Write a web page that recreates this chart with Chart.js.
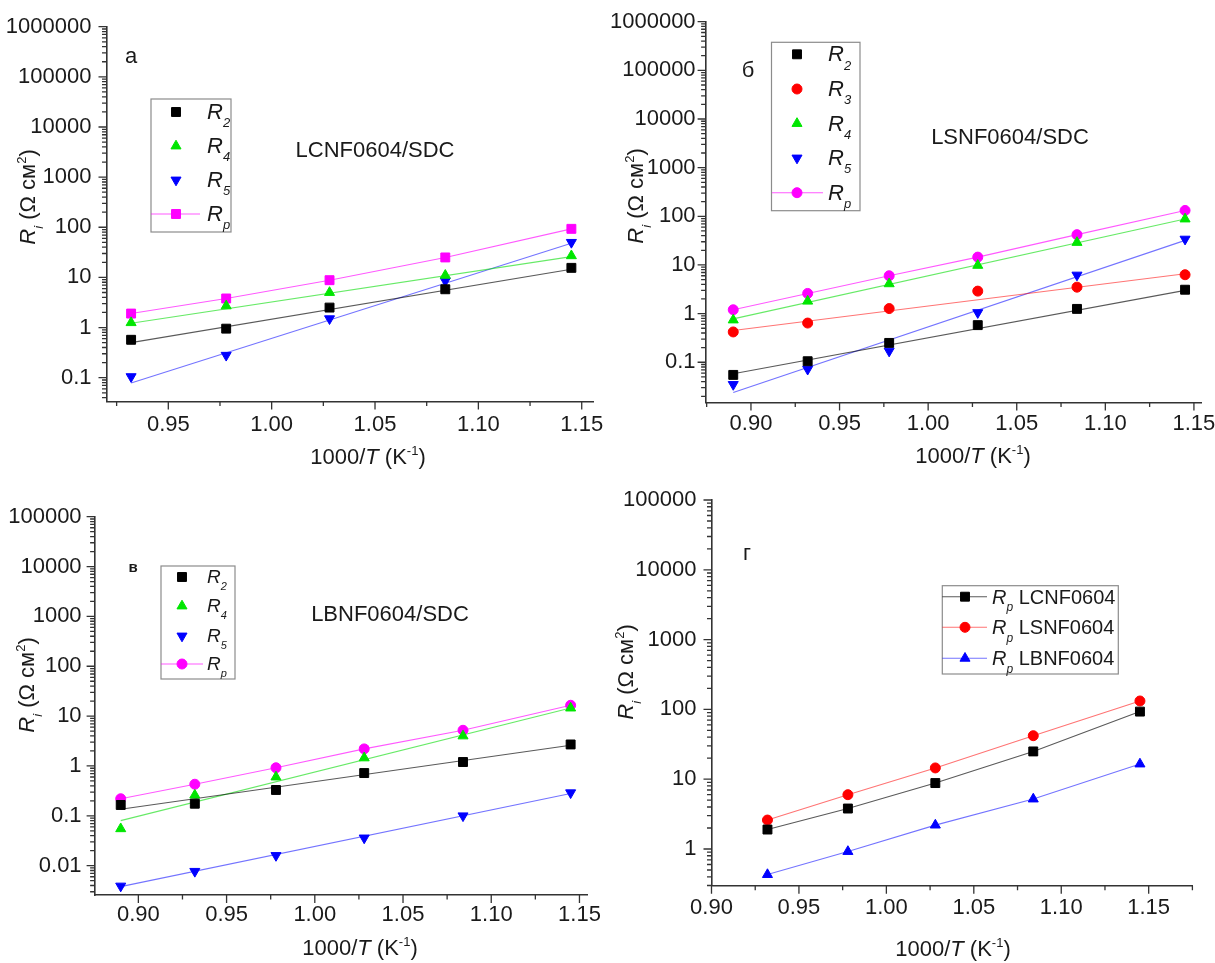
<!DOCTYPE html>
<html>
<head>
<meta charset="utf-8">
<script src="https://cdn.jsdelivr.net/npm/chart.js@4.4.1/dist/chart.umd.min.js"></script>
<style>
  html, body { margin: 0; padding: 0; background: #fff; }
  #wrap { position: relative; width: 1215px; height: 963px; overflow: hidden; }
  canvas { position: absolute; left: 0; top: 0; }
</style>
</head>
<body>
<div id="wrap">
  <canvas id="chA" width="1215" height="963"></canvas>
  <canvas id="chB" width="1215" height="963"></canvas>
  <canvas id="chC" width="1215" height="963"></canvas>
  <canvas id="chD" width="1215" height="963"></canvas>
</div>
<script>
const FONT = '"Liberation Sans", Arial, sans-serif';
const TXT = '#1a1a1a';
const AXIS = '#333333';

// 1000/T (K^-1)
const x5 = [0.932, 0.978, 1.028, 1.084, 1.145];
const x6 = [0.890, 0.932, 0.978, 1.028, 1.084, 1.145];
const fitX5 = [0.932, 1.145];
const fitX6 = [0.890, 1.145];

// panel a: LCNF0604/SDC
const seriesA = ['R2', 'R4', 'R5', 'Rp'];
const aR2 = [0.57, 0.95, 2.5, 5.8, 15.5];
const aR4 = [1.25, 2.7, 5.0, 11, 27];
const aR5 = [0.105, 0.28, 1.5, 8.5, 50];
const aRp = [1.9, 3.8, 8.8, 25, 93];
const aFitR2 = [0.50, 14.5];
const aFitR4 = [1.22, 26];
const aFitR5 = [0.078, 48];

// panel б: LSNF0604/SDC
const seriesB = ['R2', 'R3', 'R4', 'R5', 'Rp'];
const bR2 = [0.055, 0.105, 0.25, 0.58, 1.25, 3.1];
const bR3 = [0.42, 0.64, 1.27, 2.9, 3.5, 6.3];
const bR4 = [0.74, 1.8, 4.1, 9.8, 29, 88];
const bR5 = [0.035, 0.072, 0.17, 1.05, 6.2, 34];
const bRp = [1.2, 2.6, 6.0, 14.5, 42, 132];
const bFitR2 = [0.058, 3.0];
const bFitR3 = [0.45, 6.6];
const bFitR4 = [0.78, 88];
const bFitR5 = [0.024, 32];

// panel в: LBNF0604/SDC
const seriesC = ['R2', 'R4', 'R5', 'Rp'];
const cR2 = [0.165, 0.175, 0.33, 0.72, 1.2, 2.7];
const cR4 = [0.055, 0.26, 0.6, 1.45, 4.0, 14.5];
const cR5 = [0.0039, 0.0077, 0.016, 0.036, 0.10, 0.29];
const cRp = [0.22, 0.43, 0.92, 2.2, 5.2, 16.5];
const cFitR2 = [0.135, 2.6];
const cFitR4 = [0.08, 14.5];
const cFitR5 = [0.0038, 0.28];

// panel г: Rp comparison
const seriesD = ['Rp LCNF0604', 'Rp LSNF0604', 'Rp LBNF0604'];
const dLC = [1.9, 3.8, 8.8, 25, 93];
const dLS = [2.6, 6.0, 14.5, 42, 132];
const dLB = [0.43, 0.92, 2.2, 5.2, 16.5];

// ticks
const xTicksA = [0.95, 1.00, 1.05, 1.10, 1.15];
const xLabelsA = ['0.95', '1.00', '1.05', '1.10', '1.15'];
const xTicksB = [0.90, 0.95, 1.00, 1.05, 1.10, 1.15];
const xLabelsB = ['0.90', '0.95', '1.00', '1.05', '1.10', '1.15'];
const yTicksA = [0.1, 1, 10, 100, 1000, 10000, 100000, 1000000];
const yLabelsA = ['0.1', '1', '10', '100', '1000', '10000', '100000', '1000000'];
const yTicksC = [0.01, 0.1, 1, 10, 100, 1000, 10000, 100000];
const yLabelsC = ['0.01', '0.1', '1', '10', '100', '1000', '10000', '100000'];
const yTicksD = [1, 10, 100, 1000, 10000, 100000];
const yLabelsD = ['1', '10', '100', '1000', '10000', '100000'];

const BLACK = '#000000', RED = '#ff0000', GREEN = '#00e600', BLUE = '#0000ff', MAG = '#ff00ff';
const lBLACK = 'rgba(0,0,0,0.65)', lRED = 'rgba(255,0,0,0.55)', lGREEN = 'rgba(0,220,0,0.6)',
      lBLUE = 'rgba(0,0,255,0.55)', lMAG = 'rgba(255,0,255,0.65)';

function pts(xs, ys) { return xs.map((x, i) => ({ x: x, y: ys[i] })); }

function marks(label, xs, ys, color, style, radius, rot, lineColor) {
  return {
    label: label, data: pts(xs, ys),
    showLine: !!lineColor, borderColor: lineColor || color, borderWidth: 1.1,
    pointStyle: style, pointRadius: radius, pointHoverRadius: radius, pointRotation: rot || 0,
    pointBackgroundColor: color, pointBorderColor: color, pointBorderWidth: 1
  };
}
function fit(xs, ys, color) {
  return { label: '', data: pts(xs, ys), showLine: true, borderColor: color, borderWidth: 1.1,
           pointRadius: 0, pointHoverRadius: 0 };
}

function runFont(r, size) {
  const s = (r.sub || r.sup) ? Math.round(size * 0.6) : size;
  return (r.it ? 'italic ' : '') + (r.b ? 'bold ' : '') + s + 'px ' + FONT;
}
function drawRuns(ctx, runs, x, y, size, align, rot) {
  ctx.save();
  ctx.translate(x, y);
  if (rot) ctx.rotate(rot);
  let w = 0;
  runs.forEach(r => { ctx.font = runFont(r, size); w += ctx.measureText(r.t).width; });
  let cx = align === 'center' ? -w / 2 : 0;
  ctx.fillStyle = TXT;
  ctx.textAlign = 'left';
  ctx.textBaseline = 'alphabetic';
  runs.forEach(r => {
    ctx.font = runFont(r, size);
    const dy = r.sub ? size * 0.38 : r.sup ? -size * 0.42 : 0;
    ctx.fillText(r.t, cx, dy);
    cx += ctx.measureText(r.t).width;
  });
  ctx.restore();
}
function nameRuns(name) {
  const sp = name.indexOf(' ');
  const head = sp < 0 ? name : name.slice(0, sp);
  const runs = [{ t: 'R', it: true }, { t: head.slice(1), it: true, sub: true }];
  if (sp >= 0) runs.push({ t: name.slice(sp) });
  return runs;
}
const X_TITLE = [{ t: '1000/' }, { t: 'T', it: true }, { t: ' (K' }, { t: '-1', sup: true }, { t: ')' }];
const Y_TITLE = [{ t: 'R', it: true }, { t: 'i', it: true, sub: true }, { t: ' (Ω см' }, { t: '2', sup: true }, { t: ')' }];

function panel(id, p) {
  const A = p.area;
  const extras = {
    id: 'extras' + id,
    afterDraw(chart) {
      const ctx = chart.ctx;
      const a = chart.chartArea, xs = chart.scales.x, ys = chart.scales.y;
      // tick marks, outward
      ctx.save();
      ctx.strokeStyle = AXIS;
      ctx.lineWidth = 1.3;
      ctx.beginPath();
      const step = 0.025;
      for (let v = Math.ceil(xs.min / step - 1e-6) * step; v <= xs.max + 1e-9; v += step) {
        const px = xs.getPixelForValue(v);
        const major = Math.abs(v / 0.05 - Math.round(v / 0.05)) < 1e-6;
        ctx.moveTo(px, a.bottom);
        ctx.lineTo(px, a.bottom + (major ? 8 : 4.5));
      }
      for (let e = Math.floor(Math.log10(ys.min)); e <= Math.ceil(Math.log10(ys.max)); e++) {
        for (let k = 1; k <= 9; k++) {
          const v = k * Math.pow(10, e);
          if (v < ys.min * 0.999 || v > ys.max * 1.001) continue;
          const py = ys.getPixelForValue(v);
          ctx.moveTo(a.left, py);
          ctx.lineTo(a.left - (k === 1 ? 8 : 4.5), py);
        }
      }
      ctx.stroke();
      ctx.restore();

      // axis titles
      drawRuns(ctx, X_TITLE, p.xTitle[0], p.xTitle[1], 22, 'center');
      drawRuns(ctx, Y_TITLE, p.yTitle[0], p.yTitle[1], 22, 'center', -Math.PI / 2);

      // notes
      p.notes.forEach(n => drawRuns(ctx, [{ t: n.t, b: n.b }], n.x, n.y, n.size, 'center'));

      // legend
      const L = p.legend;
      ctx.save();
      ctx.strokeStyle = '#8c8c8c';
      ctx.lineWidth = 1.2;
      ctx.strokeRect(L.box[0], L.box[1], L.box[2] - L.box[0], L.box[3] - L.box[1]);
      L.items.forEach((di, i) => {
        const ds = chart.data.datasets[di];
        const y = L.rows[i];
        if (ds.showLine) {
          ctx.strokeStyle = ds.borderColor;
          ctx.lineWidth = 1.1;
          ctx.beginPath();
          ctx.moveTo(L.line[0], y);
          ctx.lineTo(L.line[1], y);
          ctx.stroke();
        }
        ctx.fillStyle = ds.pointBackgroundColor;
        ctx.strokeStyle = ds.pointBorderColor;
        ctx.lineWidth = 1;
        Chart.helpers.drawPoint(ctx, { pointStyle: ds.pointStyle, rotation: ds.pointRotation,
          radius: ds.pointRadius, borderWidth: 1 }, L.markerX, y);
        drawRuns(ctx, nameRuns(ds.label), L.textX, y + L.base, L.size, 'left');
      });
      ctx.restore();
    }
  };

  new Chart(document.getElementById(id), {
    type: 'scatter',
    data: { datasets: p.datasets },
    options: {
      responsive: false, animation: false, events: [],
      layout: { padding: { left: 0, top: A.top, right: 1215 - A.right, bottom: 0 } },
      plugins: { legend: { display: false }, tooltip: { enabled: false } },
      scales: {
        x: {
          type: 'linear', position: 'bottom', min: p.xr[0], max: p.xr[1],
          afterBuildTicks: s => { s.ticks = p.xTicks.map(v => ({ value: v })); },
          afterFit: s => { s.height = 963 - A.bottom; s.paddingLeft = 0; s.paddingRight = 0; },
          grid: { display: false, drawTicks: false },
          border: { display: true, color: AXIS, width: 1.6 },
          ticks: { font: { family: FONT, size: 22 }, color: TXT, padding: p.xPad, autoSkip: false,
                   maxRotation: 0, callback: (v) => p.xLabels[p.xTicks.findIndex(t => Math.abs(t - v) < 1e-9)] }
        },
        y: {
          type: 'logarithmic', position: 'left', min: p.yr[0], max: p.yr[1],
          afterBuildTicks: s => { s.ticks = p.yTicks.map(v => ({ value: v })); },
          afterFit: s => { s.width = A.left; s.paddingTop = 0; s.paddingBottom = 0; },
          grid: { display: false, drawTicks: false },
          border: { display: true, color: AXIS, width: 1.6 },
          ticks: { font: { family: FONT, size: 22 }, color: TXT, padding: p.yPad, autoSkip: false,
                   callback: (v) => p.yLabels[p.yTicks.findIndex(t => Math.abs(t - v) / t < 1e-9)] }
        }
      }
    },
    plugins: [extras]
  });
}

panel('chA', {
  area: { left: 106.5, top: 26.7, right: 593.3, bottom: 401.5 },
  xr: [0.9201, 1.1556], yr: [0.0335, 1000000],
  xTicks: xTicksA, xLabels: xLabelsA, yTicks: yTicksA, yLabels: yLabelsA, xPad: 10, yPad: 15,
  datasets: [
    marks(seriesA[0], x5, aR2, BLACK, 'rect', 6.3),
    marks(seriesA[1], x5, aR4, GREEN, 'triangle', 5.8),
    marks(seriesA[2], x5, aR5, BLUE, 'triangle', 5.8, 180),
    marks(seriesA[3], x5, aRp, MAG, 'rect', 6.3, 0, lMAG),
    fit(fitX5, aFitR2, lBLACK),
    fit(fitX5, aFitR4, lGREEN),
    fit(fitX5, aFitR5, lBLUE)
  ],
  legend: { box: [151, 99, 231, 232], rows: [112, 146, 180, 214], items: [0, 1, 2, 3],
            markerX: 176, textX: 207, line: [151, 200], size: 22, base: 7 },
  notes: [{ t: 'a', x: 131, y: 63, size: 22 }, { t: 'LCNF0604/SDC', x: 375, y: 157, size: 22 }],
  xTitle: [368, 464], yTitle: [35, 197]
});

panel('chB', {
  area: { left: 705.6, top: 21.7, right: 1201.9, bottom: 402.5 },
  xr: [0.8744, 1.1545], yr: [0.0149, 1000000],
  xTicks: xTicksB, xLabels: xLabelsB, yTicks: yTicksA, yLabels: yLabelsA, xPad: 8, yPad: 10,
  datasets: [
    marks(seriesB[0], x6, bR2, BLACK, 'rect', 6.3),
    marks(seriesB[1], x6, bR3, RED, 'circle', 5),
    marks(seriesB[2], x6, bR4, GREEN, 'triangle', 5.8),
    marks(seriesB[3], x6, bR5, BLUE, 'triangle', 5.8, 180),
    marks(seriesB[4], x6, bRp, MAG, 'circle', 5, 0, lMAG),
    fit(fitX6, bFitR2, lBLACK),
    fit(fitX6, bFitR3, lRED),
    fit(fitX6, bFitR4, lGREEN),
    fit(fitX6, bFitR5, lBLUE)
  ],
  legend: { box: [771.5, 42.3, 860, 210.7], rows: [54.3, 89, 123.5, 158, 192.7], items: [0, 1, 2, 3, 4],
            markerX: 797, textX: 828, line: [772, 823], size: 22, base: 7 },
  notes: [{ t: 'б', x: 748, y: 77, size: 22 }, { t: 'LSNF0604/SDC', x: 1010, y: 144, size: 22 }],
  xTitle: [973, 463], yTitle: [643, 196]
});

panel('chC', {
  area: { left: 94.6, top: 516.7, right: 587.4, bottom: 895 },
  xr: [0.8752, 1.1545], yr: [0.00258, 100000],
  xTicks: xTicksB, xLabels: xLabelsB, yTicks: yTicksC, yLabels: yLabelsC, xPad: 7, yPad: 13,
  datasets: [
    marks(seriesC[0], x6, cR2, BLACK, 'rect', 6.3),
    marks(seriesC[1], x6, cR4, GREEN, 'triangle', 5.8),
    marks(seriesC[2], x6, cR5, BLUE, 'triangle', 5.8, 180),
    marks(seriesC[3], x6, cRp, MAG, 'circle', 5, 0, lMAG),
    fit(fitX6, cFitR2, lBLACK),
    fit(fitX6, cFitR4, lGREEN),
    fit(fitX6, cFitR5, lBLUE)
  ],
  legend: { box: [161, 566, 235, 679], rows: [577, 606, 636, 664], items: [0, 1, 2, 3],
            markerX: 182, textX: 207, line: [161, 203], size: 19, base: 6 },
  notes: [{ t: 'в', x: 133, y: 572, size: 15, b: true }, { t: 'LBNF0604/SDC', x: 390, y: 621, size: 22 }],
  xTitle: [360, 955], yTitle: [34, 685]
});

panel('chD', {
  area: { left: 711.5, top: 500, right: 1192.4, bottom: 885.7 },
  xr: [0.90, 1.175], yr: [0.298, 100000],
  xTicks: xTicksB, xLabels: xLabelsB, yTicks: yTicksD, yLabels: yLabelsD, xPad: 9, yPad: 15,
  datasets: [
    marks(seriesD[0], x5, dLC, BLACK, 'rect', 6.3, 0, lBLACK),
    marks(seriesD[1], x5, dLS, RED, 'circle', 5, 0, lRED),
    marks(seriesD[2], x5, dLB, BLUE, 'triangle', 5.8, 0, lBLUE)
  ],
  legend: { box: [942.3, 585.7, 1118.3, 674], rows: [596.7, 627.3, 658.3], items: [0, 1, 2],
            markerX: 965, textX: 992, line: [942.3, 987], size: 20, base: 7 },
  notes: [{ t: 'г', x: 747, y: 560, size: 22 }],
  xTitle: [953, 956], yTitle: [633, 672]
});
</script>
</body>
</html>
